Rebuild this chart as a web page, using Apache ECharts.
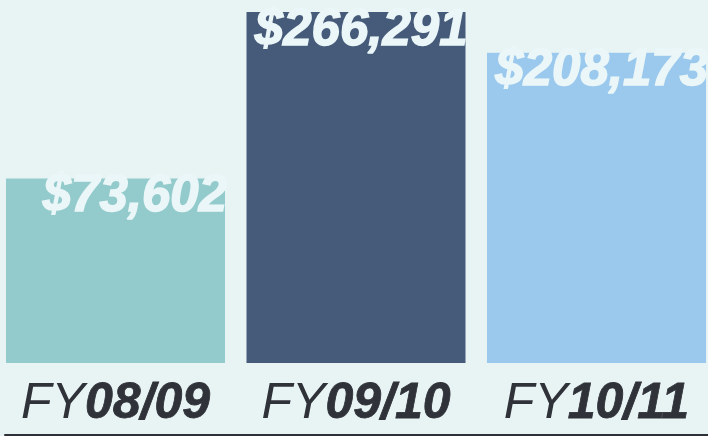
<!DOCTYPE html>
<html>
<head>
<meta charset="utf-8">
<script src="https://cdn.jsdelivr.net/npm/echarts@6/dist/echarts.min.js"></script>
<style>
html,body{margin:0;padding:0;background:#e8f4f4;}
#chart{width:708px;height:436px;}
</style>
</head>
<body>
<div id="chart"></div>
<script>
var categoryPrefix = ['FY', 'FY', 'FY'];
var categoryYears = ['08/09', '09/10', '10/11'];
var amounts = [73602, 266291, 208173];
var barColors = ['#93cbcc', '#465b7a', '#9bc9ed'];

var categories = categoryYears.map(function (y, i) { return categoryPrefix[i] + y; });

var chart = echarts.init(document.getElementById('chart'));
chart.setOption({
  backgroundColor: '#e8f4f4',
  animation: false,
  grid: [
    { left: -4.75, width: 721.5, top: 12, bottom: 73, outerBoundsMode: 'none', containLabel: false },
    { left: 5, right: 0, top: 0, bottom: 1, outerBoundsMode: 'none' }
  ],
  xAxis: [
    {
      type: 'category', gridIndex: 0, data: categories,
      axisLine: { show: false }, axisTick: { show: false },
      axisLabel: {
        margin: 16,
        formatter: function (v, i) {
          return '{a|' + categoryPrefix[i] + '}{b|' + categoryYears[i] + '}';
        },
        rich: {
          a: { fontFamily: 'Liberation Sans', fontStyle: 'italic', fontWeight: 'normal', fontSize: 50, color: '#30323a' },
          b: { fontFamily: 'Liberation Sans', fontStyle: 'italic', fontWeight: 'bold', fontSize: 50, color: '#30323a', textBorderColor: '#30323a', textBorderWidth: 0.8 }
        }
      }
    },
    {
      type: 'category', gridIndex: 1, data: categories,
      axisLine: { show: true, lineStyle: { color: '#2e3038', width: 2 } },
      axisTick: { show: false }, axisLabel: { show: false }
    }
  ],
  yAxis: [
    { type: 'value', gridIndex: 0, min: 0, max: Math.sqrt(Math.max.apply(null, amounts)), show: false, splitLine: { show: false } },
    { type: 'value', gridIndex: 1, show: false }
  ],
  series: [{
    type: 'bar',
    xAxisIndex: 0, yAxisIndex: 0,
    barWidth: 219,
    data: amounts.map(function (v, i) {
      return { value: Math.sqrt(v), itemStyle: { color: barColors[i] } };
    }),
    label: {
      show: true,
      position: 'insideTopRight',
      distance: 0,
      offset: [2, -7],
      color: '#eaf6f8',
      textBorderColor: '#eaf6f8',
      textBorderWidth: 1.5,
      fontFamily: 'Liberation Sans',
      fontStyle: 'italic',
      fontWeight: 'bold',
      fontSize: 51,
      formatter: function (p) { return '$' + amounts[p.dataIndex].toLocaleString('en-US'); }
    }
  }]
});
</script>
</body>
</html>
